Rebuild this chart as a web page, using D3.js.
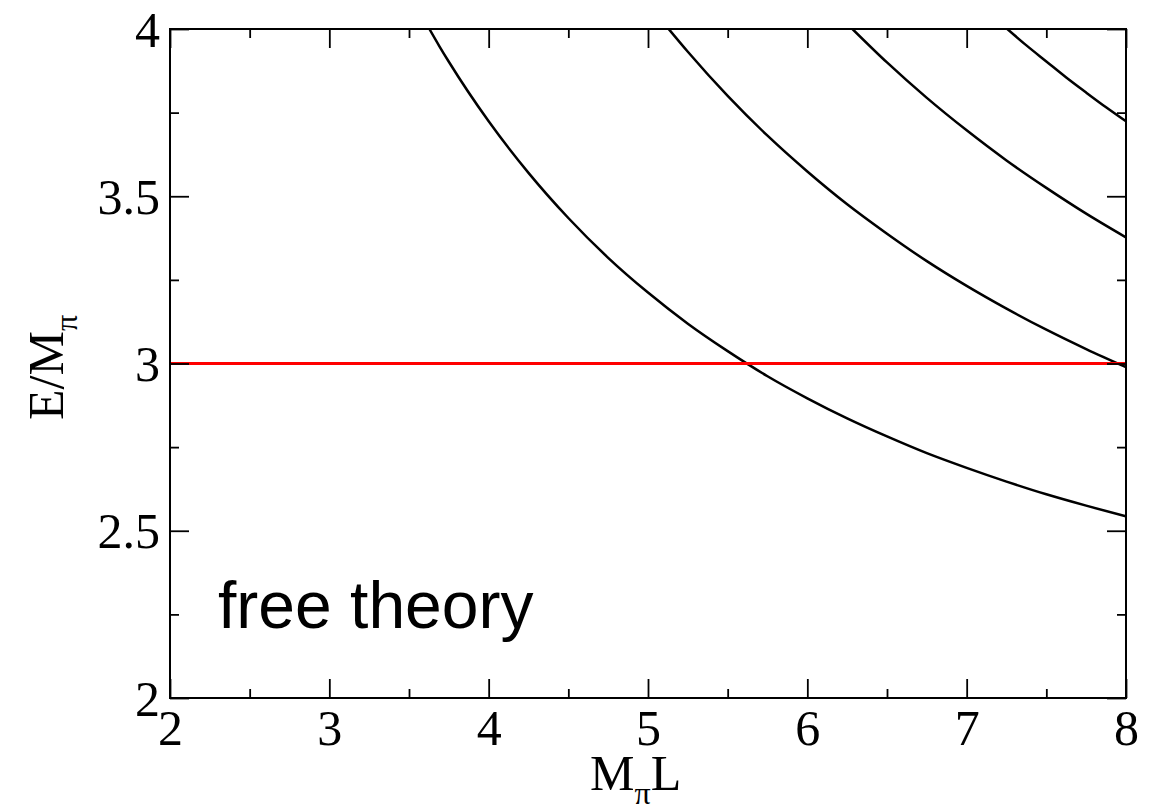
<!DOCTYPE html>
<html>
<head>
<meta charset="utf-8">
<script src="https://cdn.jsdelivr.net/npm/d3@7"></script>
<style>
  body { margin: 0; background: #fff; }
  svg { display: block; }
</style>
</head>
<body>
<svg id="chart" width="1165" height="810"></svg>
<script>
// levels: [M_pi L, E/M_pi]
var level1 = [[3.628,4.0],[3.69,3.949],[3.75,3.902],[4.0,3.724],[4.25,3.570],[4.5,3.435],[4.75,3.316],
  [5.0,3.212],[5.25,3.119],[5.5,3.037],[5.75,2.962],[6.0,2.896],[6.25,2.836],[6.5,2.782],
  [6.75,2.732],[7.0,2.688],[7.25,2.647],[7.5,2.609],[7.75,2.575],[8.0,2.543]];
var level2 = [[5.13,4.0],[5.25,3.932],[5.5,3.800],[5.75,3.681],[6.0,3.574],[6.25,3.476],[6.5,3.388],
  [6.75,3.306],[7.0,3.232],[7.25,3.164],[7.5,3.101],[7.75,3.043],[8.0,2.989]];
var level3 = [[6.283,4.0],[6.5,3.900],[6.75,3.794],[7.0,3.697],[7.25,3.607],[7.5,3.525],[7.75,3.448],[8.0,3.377]];
var level4 = [[7.255,4.0],[7.375,3.951],[7.5,3.903],[7.625,3.855],[7.75,3.810],[7.875,3.766],[8.0,3.724]];
var threshold = [[2,3],[8,3]];

var xTicks = [2,3,4,5,6,7,8],
    xMinor = [2.5,3.5,4.5,5.5,6.5,7.5],
    yTicks = [2,2.5,3,3.5,4],
    yMinor = [2.25,2.75,3.25,3.75];

var svg = d3.select("#chart"),
    margin = {top: 29, right: 39, bottom: 112, left: 170},
    width = +svg.attr("width") - margin.left - margin.right,
    height = +svg.attr("height") - margin.top - margin.bottom,
    g = svg.append("g").attr("transform", "translate(" + margin.left + "," + margin.top + ")");

var x = d3.scaleLinear().domain([2, 8]).range([0, width]);
var y = d3.scaleLinear().domain([2, 4]).range([height, 0]);

var line = d3.line()
    .curve(d3.curveMonotoneX)
    .x(function(d) { return x(d[0]); })
    .y(function(d) { return y(d[1]); });

g.append("defs").append("clipPath").attr("id", "clip")
  .append("rect").attr("width", width).attr("height", height);

// curves
[level1, level2, level3, level4].forEach(function(lv) {
  g.append("path")
      .datum(lv)
      .attr("clip-path", "url(#clip)")
      .attr("fill", "none")
      .attr("stroke", "#000")
      .attr("stroke-width", 2.5)
      .attr("d", line);
});

g.append("path")
    .datum(threshold)
    .attr("fill", "none")
    .attr("stroke", "#ff0000")
    .attr("stroke-width", 3)
    .attr("d", line);

// frame ticks, all four sides, pointing inward
function styleAxis(ax) {
  ax.select(".domain").remove();
  ax.selectAll(".tick line").attr("stroke", "#000").attr("stroke-width", 1.8);
}

g.append("g").attr("transform", "translate(0," + height + ")")
  .call(d3.axisBottom(x).tickValues(xMinor).tickSize(-9).tickFormat(""))
  .call(styleAxis);
var xb = g.append("g").attr("transform", "translate(0," + height + ")")
  .call(d3.axisBottom(x).tickValues(xTicks).tickSize(-19).tickPadding(0).tickFormat(d3.format("d")))
  .call(styleAxis);
xb.selectAll(".tick text")
  .attr("y", 47).attr("dy", null)
  .attr("font-family", "'Liberation Serif', 'Times New Roman', serif")
  .attr("font-size", 50).attr("fill", "#000");

g.append("g")
  .call(d3.axisTop(x).tickValues(xMinor).tickSize(-9).tickFormat(""))
  .call(styleAxis);
g.append("g")
  .call(d3.axisTop(x).tickValues(xTicks).tickSize(-19).tickFormat(""))
  .call(styleAxis);

g.append("g")
  .call(d3.axisLeft(y).tickValues(yMinor).tickSize(-9).tickFormat(""))
  .call(styleAxis);
var yl = g.append("g")
  .call(d3.axisLeft(y).tickValues(yTicks).tickSize(-19).tickPadding(10).tickFormat(d3.format("")))
  .call(styleAxis);
yl.selectAll(".tick text")
  .attr("x", -10).attr("dy", "0.34em")
  .attr("font-family", "'Liberation Serif', 'Times New Roman', serif")
  .attr("font-size", 50).attr("fill", "#000");

g.append("g").attr("transform", "translate(" + width + ",0)")
  .call(d3.axisRight(y).tickValues(yMinor).tickSize(-9).tickFormat(""))
  .call(styleAxis);
g.append("g").attr("transform", "translate(" + width + ",0)")
  .call(d3.axisRight(y).tickValues(yTicks).tickSize(-19).tickFormat(""))
  .call(styleAxis);

g.append("rect")
    .attr("width", width).attr("height", height)
    .attr("fill", "none").attr("stroke", "#000").attr("stroke-width", 2);

// labels
var serif = "'Liberation Serif', 'Times New Roman', serif";

var xt = svg.append("text")
    .attr("x", 590).attr("y", 790)
    .attr("font-family", serif).attr("font-size", 50).attr("fill", "#000");
xt.append("tspan").text("M");
xt.append("tspan").attr("font-size", 32).attr("dy", 14).text("π");
xt.append("tspan").attr("dy", -14).text("L");

var yt = svg.append("text")
    .attr("transform", "translate(63,420) rotate(-90)")
    .attr("font-family", serif).attr("font-size", 50).attr("fill", "#000");
yt.append("tspan").text("E/M");
yt.append("tspan").attr("font-size", 32).attr("dy", 14).text("π");

svg.append("text")
    .attr("x", 218).attr("y", 628)
    .attr("font-family", "'Liberation Sans', Helvetica, Arial, sans-serif")
    .attr("font-size", 66).attr("fill", "#000")
    .text("free theory");
</script>
</body>
</html>
